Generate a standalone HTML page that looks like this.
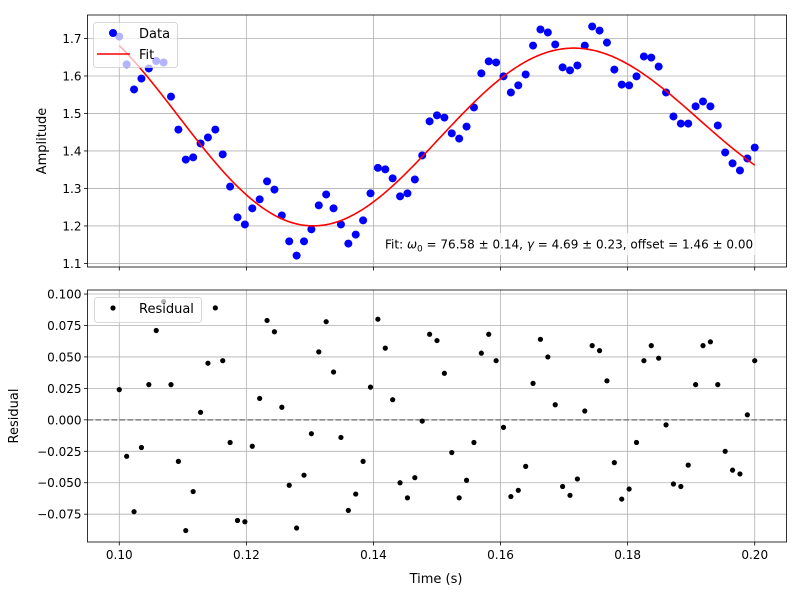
<!DOCTYPE html>
<html><head><meta charset="utf-8"><style>
body{margin:0;background:#fff;}
svg{display:block;font-family:"DejaVu Sans","Liberation Sans",sans-serif;}
</style></head><body>
<svg id="c" width="800" height="600" viewBox="0 0 800 600"></svg>
<script>
const times = [];
const nPts = 87;
for (let i = 0; i < nPts; i++) times.push(0.1 + 0.1 * i / (nPts - 1));
const amplitude = [1.705,1.631,1.564,1.593,1.62,1.64,1.636,1.545,1.457,1.377,1.383,1.42,1.436,1.457,1.391,1.305,1.223,1.204,1.247,1.271,1.319,1.297,1.228,1.159,1.121,1.159,1.191,1.255,1.284,
1.247,1.204,1.153,1.177,1.215,1.287,1.355,1.351,1.327,1.279,1.287,1.324,1.388,1.479,1.495,1.489,1.447,1.433,1.465,1.516,1.607,1.639,1.636,1.599,1.556,1.575,1.604,1.681,1.724,1.716,
1.684,1.623,1.615,1.628,1.681,1.732,1.721,1.689,1.617,1.577,1.575,1.599,1.652,1.649,1.625,1.556,1.492,1.473,1.473,1.519,1.532,1.519,1.468,1.396,1.367,1.348,1.38,1.409];
const residual = [0.024,-0.029,-0.073,-0.022,0.028,0.071,0.094,0.028,-0.033,-0.088,-0.057,0.006,0.045,0.089,0.047,-0.018,-0.080,-0.081,-0.021,0.017,0.079,0.070,0.010,-0.052,-0.086,-0.044,-0.011,0.054,0.078,
0.038,-0.014,-0.072,-0.059,-0.033,0.026,0.080,0.057,0.016,-0.050,-0.062,-0.046,-0.001,0.068,0.063,0.037,-0.026,-0.062,-0.048,-0.018,0.053,0.068,0.047,-0.006,-0.061,-0.056,-0.037,0.029,0.064,0.050,
0.012,-0.053,-0.060,-0.047,0.007,0.059,0.055,0.031,-0.034,-0.063,-0.055,-0.018,0.047,0.059,0.049,-0.004,-0.051,-0.053,-0.036,0.028,0.059,0.062,0.028,-0.025,-0.040,-0.043,0.004,0.047];
const fitOffset = 1.46, fitA = 0.48, fitOmega = 76.58, fitGamma = 4.69, fitPhi = -0.631;
const xTicks = [0.10,0.12,0.14,0.16,0.18,0.20];
const xTickLabels = ["0.10","0.12","0.14","0.16","0.18","0.20"];
const yTopTicks = [1.1,1.2,1.3,1.4,1.5,1.6,1.7];
const yTopTickLabels = ["1.1","1.2","1.3","1.4","1.5","1.6","1.7"];
const yBotTicks = [-0.075,-0.05,-0.025,0,0.025,0.05,0.075,0.1];
const yBotTickLabels = ["−0.075","−0.050","−0.025","0.000","0.025","0.050","0.075","0.100"];

const NS = "http://www.w3.org/2000/svg";
const svg = document.getElementById('c');
function mk(tag, attrs, parent, text) {
  const e = document.createElementNS(NS, tag);
  for (const k in attrs) e.setAttribute(k, attrs[k]);
  if (text !== undefined) e.textContent = text;
  (parent || svg).appendChild(e);
  return e;
}
const L = 87.5, R = 786.5;
const xmin = 0.095, xmax = 0.205;
const X = v => L + (v - xmin) / (xmax - xmin) * (R - L);
const T = {top: 15, bot: 267, min: 1.0905, max: 1.7626};
const B = {top: 290, bot: 542, min: -0.0971, max: 0.1032};
const YT = v => T.bot - (v - T.min) / (T.max - T.min) * (T.bot - T.top);
const YB = v => B.bot - (v - B.min) / (B.max - B.min) * (B.bot - B.top);

function axes(P, Y, yt, ytl, name, showXLabels) {
  const g = mk('g', {});
  
  
  xTicks.forEach((v, i) => {
    const gl = mk('line', {x1: X(v), x2: X(v), y1: P.top, y2: P.bot, stroke: '#b0b0b0', 'stroke-width': 0.8}, g);
    
    
    mk('line', {x1: X(v), x2: X(v), y1: P.bot, y2: P.bot + 3.5, stroke: '#000', 'stroke-width': 0.8}, g);
    if (showXLabels) {
      const t = mk('text', {x: X(v), y: P.bot + 17, 'text-anchor': 'middle', 'font-size': 12}, g, xTickLabels[i]);
      
      
    }
  });
  yt.forEach((v, i) => {
    const gl = mk('line', {x1: L, x2: R, y1: Y(v), y2: Y(v), stroke: '#b0b0b0', 'stroke-width': 0.8}, g);
    
    
    mk('line', {x1: L - 3.5, x2: L, y1: Y(v), y2: Y(v), stroke: '#000', 'stroke-width': 0.8}, g);
    const t = mk('text', {x: L - 6, y: Y(v) + 4.5, 'text-anchor': 'end', 'font-size': 12}, g, ytl[i]);
    
    
  });
  return g;
}
function frame(P, name) {
  const r = mk('rect', {x: L, y: P.top, width: R - L, height: P.bot - P.top, fill: 'none', stroke: '#000', 'stroke-width': 0.8});
  
  
}

// Top panel
axes(T, YT, yTopTicks, yTopTickLabels, 'top-axes', false);
const dataG = mk('g', {fill: '#0000ff'});


amplitude.forEach((v, i) => {
  const c = mk('circle', {cx: X(times[i]), cy: YT(v), r: 4}, dataG);
  
  
});
let d = '';
for (let k = 0; k <= 300; k++) {
  const t = 0.1 + 0.1 * k / 300;
  const y = fitOffset + fitA * Math.exp(-fitGamma * t) * Math.cos(fitOmega * t + fitPhi);
  d += (k ? 'L' : 'M') + X(t).toFixed(2) + ',' + YT(y).toFixed(2);
}
const fitPath = mk('path', {d: d, fill: 'none', stroke: '#ff0000', 'stroke-width': 1.6});


frame(T, 'top-axes-frame');
const yt1 = mk('text', {x: 0, y: 0, transform: 'translate(46,141) rotate(-90)', 'text-anchor': 'middle', 'font-size': 13}, svg, 'Amplitude');



// annotation
const annBox = mk('rect', {x: 380, y: 233, width: 375, height: 22, fill: '#fff', 'fill-opacity': 0.8});


const ann = mk('text', {x: 385, y: 248.5, 'font-size': 12}, svg);


ann.innerHTML = 'Fit: <tspan font-style="italic">ω</tspan><tspan font-size="9" dy="3">0</tspan><tspan dy="-3"> = 76.58 ± 0.14, </tspan><tspan font-style="italic">γ</tspan> = 4.69 ± 0.23, offset = 1.46 ± 0.00';

// top legend
const lg = mk('g', {});


mk('rect', {x: 93.5, y: 22.5, width: 84, height: 45, rx: 3, fill: '#fff', 'fill-opacity': 0.7, stroke: '#ccc', 'stroke-width': 0.8}, lg);
const lm = mk('circle', {cx: 113, cy: 33, r: 4, fill: '#0000ff'}, lg);


mk('text', {x: 139, y: 38, 'font-size': 13}, lg, 'Data');
const ll = mk('line', {x1: 97, x2: 130, y1: 54, y2: 54, stroke: '#ff0000', 'stroke-width': 1.6}, lg);


mk('text', {x: 139, y: 59, 'font-size': 13}, lg, 'Fit');

// Bottom panel
axes(B, YB, yBotTicks, yBotTickLabels, 'bottom-axes', true);
const zl = mk('line', {x1: L, x2: R, y1: YB(0), y2: YB(0), stroke: '#808080', 'stroke-width': 1.5, 'stroke-dasharray': '5.5,2.5'});


const resG = mk('g', {fill: '#000'});


residual.forEach((v, i) => {
  const c = mk('circle', {cx: X(times[i]), cy: YB(v), r: 2.6}, resG);
  
  
});
frame(B, 'bottom-axes-frame');
const lg2 = mk('g', {});


mk('rect', {x: 94.5, y: 297.5, width: 107, height: 25, rx: 3, fill: '#fff', 'fill-opacity': 0.7, stroke: '#ccc', 'stroke-width': 0.8}, lg2);
const lm2 = mk('circle', {cx: 113, cy: 308, r: 2.6, fill: '#000'}, lg2);


mk('text', {x: 139, y: 313, 'font-size': 13}, lg2, 'Residual');
const yt2 = mk('text', {x: 0, y: 0, transform: 'translate(18,416) rotate(-90)', 'text-anchor': 'middle', 'font-size': 13}, svg, 'Residual');


const xt = mk('text', {x: 436, y: 583, 'text-anchor': 'middle', 'font-size': 13}, svg, 'Time (s)');


</script>
</body></html>
